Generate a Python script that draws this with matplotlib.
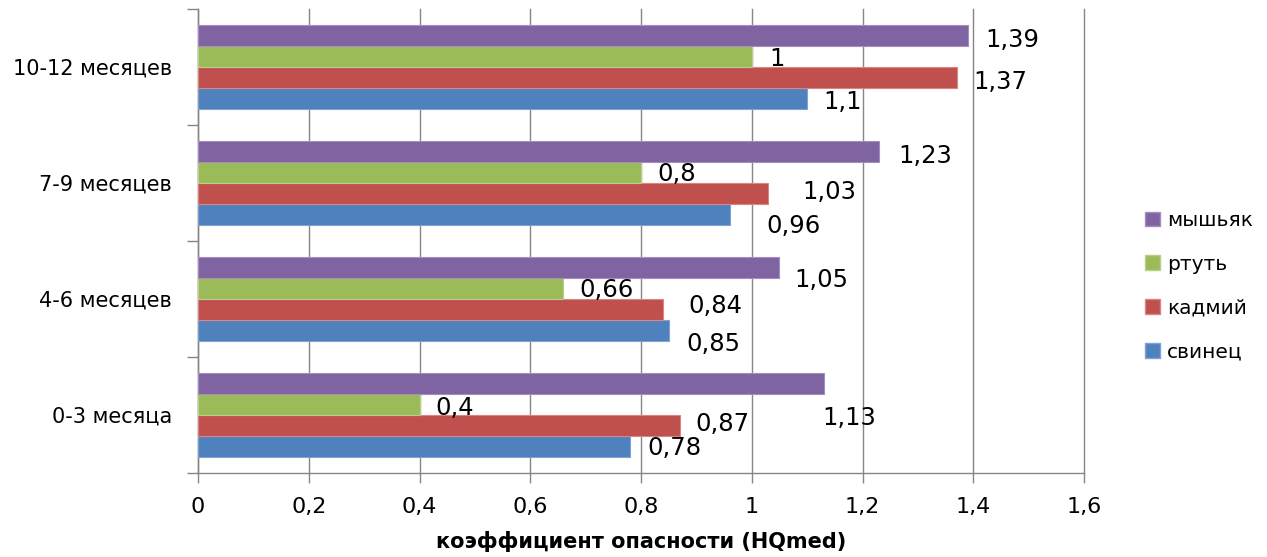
import matplotlib
matplotlib.use("Agg")
import matplotlib.pyplot as plt
import numpy as np
from matplotlib.patches import Patch

# Age groups (bottom to top) and hazard quotients per metal
categories = ["0-3 месяца", "4-6 месяцев", "7-9 месяцев", "10-12 месяцев"]
series_names = ["свинец", "кадмий", "ртуть", "мышьяк"]
lead = [0.78, 0.85, 0.96, 1.10]
cadmium = [0.87, 0.84, 1.03, 1.37]
mercury = [0.40, 0.66, 0.80, 1.00]
arsenic = [1.13, 1.05, 1.23, 1.39]
x_ticks = [0, 0.2, 0.4, 0.6, 0.8, 1.0, 1.2, 1.4, 1.6]
x_label = "коэффициент опасности (HQmed)"

values = [lead, cadmium, mercury, arsenic]
colors = ["#4F81BD", "#C0504D", "#9BBB59", "#8064A2"]
edges = ["#7FA3D3", "#D98583", "#B9D08A", "#A48DBF"]

# Label placement: (dx, dy) in pixels from the bar end, per series and group
label_shift = {
    0: [(17, 0), (18, -12), (37, -10), (16, -1)],
    1: [(16, 3), (25, 6), (34, 3), (17, -2)],
    2: [(16, -1), (16, 0), (16, 0), (18, 0)],
    3: [(-1, -33), (15, -10), (19, -2), (18, -2)],
}

W, H, DPI = 1267, 557, 100
fig = plt.figure(figsize=(W / DPI, H / DPI), dpi=DPI)
ax = fig.add_axes([198 / W, 84 / H, (1084 - 198) / W, (473 - 9) / H])

grid_c = "#868686"
y = np.arange(len(categories))
bh = 21 / 116
offsets = [-1.5, -0.5, 0.5, 1.5]

for i, (vals, col, ec) in enumerate(zip(values, colors, edges)):
    pos = y + offsets[i] * bh
    ax.barh(pos, vals, height=bh, color=col, edgecolor=ec, linewidth=0.8, zorder=3)
    for j, v in enumerate(vals):
        dx, dy = label_shift[i][j]
        txt = f"{v:g}".replace(".", ",")
        ax.annotate(txt, (v, pos[j]), xytext=(dx, dy - 2), textcoords="offset pixels",
                    ha="left", va="center", fontsize=17.5, color="#000000",
                    family="DejaVu Sans", zorder=4, annotation_clip=False)

ax.set_xlim(0, 1.6)
ax.set_ylim(-0.5, len(categories) - 0.5)
ax.set_xticks(x_ticks)
ax.set_xticklabels([f"{t:g}".replace(".", ",") for t in x_ticks],
                   fontsize=16, color="#000000")
ax.set_yticks(y)
ax.set_yticklabels(categories, fontsize=15, color="#000000")
ax.set_yticks(np.arange(-0.5, len(categories)), minor=True)

ax.tick_params(axis="y", which="major", length=0, pad=18.7)
ax.tick_params(axis="y", which="minor", length=8, width=1, color=grid_c, direction="out")
ax.tick_params(axis="x", which="major", length=7, width=1, color=grid_c, direction="out", pad=10)

ax.xaxis.grid(True, color=grid_c, linewidth=1, zorder=0)
for gl in ax.get_xgridlines():
    gl.set_clip_on(False)
ax.set_axisbelow(True)
for side in ["top", "right"]:
    ax.spines[side].set_visible(False)
for side in ["left", "bottom"]:
    ax.spines[side].set_color(grid_c)
    ax.spines[side].set_linewidth(1)

ax.set_xlabel(x_label, fontsize=15, fontweight="bold", labelpad=10)

handles = [Patch(facecolor=colors[i], edgecolor=edges[i]) for i in range(3, -1, -1)]
labels = [series_names[i] for i in range(3, -1, -1)]
fig.legend(handles, labels, loc="upper left", bbox_to_anchor=(1145 / W, 1 - 211 / H),
           frameon=False, fontsize=14.5, handlelength=0.75, handleheight=0.75,
           handletextpad=0.35, labelspacing=1.23, borderpad=0, borderaxespad=0)

fig.savefig("out.png", dpi=DPI)
